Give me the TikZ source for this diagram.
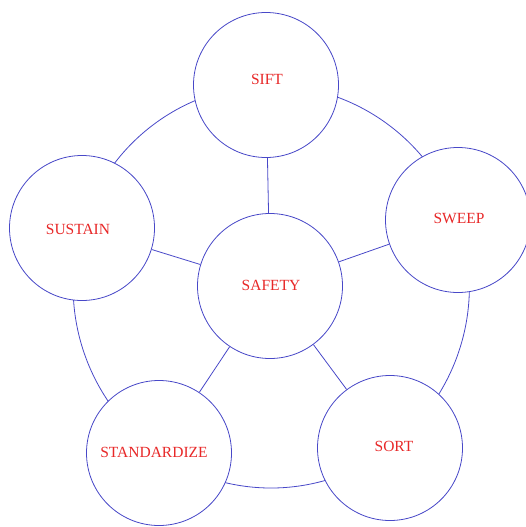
\documentclass[tikz,border=0pt]{standalone}
\usepackage{fontspec}
\setmainfont{Liberation Serif}
\usetikzlibrary{backgrounds}
\definecolor{ringblue}{RGB}{72,72,200}
\definecolor{labred}{RGB}{232,40,40}
\begin{document}
\begin{tikzpicture}[x=1pt,y=1pt,
  ball/.style={circle,draw=ringblue,line width=0.8pt,fill=white,minimum size=145pt,inner sep=0pt},
  lab/.style={text=labred,font=\fontsize{15.5}{17}\selectfont,inner sep=0pt},
  link/.style={draw=ringblue,line width=0.8pt},
  ringlink/.style={link,bend left=36,looseness=0.94}]
\useasboundingbox (0,0) rectangle (526,-527);
\node[ball] (sift) at (266,-85) {};
\node[ball] (sweep) at (458,-220) {};
\node[ball] (safety) at (270,-286) {};
\node[ball] (sustain) at (82,-228) {};
\node[ball] (stand) at (159,-453) {};
\node[ball] (sort) at (390,-448) {};
\node[lab] (siftT) at (267,-79) {SIFT};
\node[lab] (sweepT) at (459,-218) {SWEEP};
\node[lab] (safetyT) at (271,-285) {SAFETY};
\node[lab] (sustainT) at (78,-229) {SUSTAIN};
\node[lab] (standT) at (154,-452) {STANDARDIZE};
\node[lab] (sortT) at (394,-446) {SORT};
\begin{scope}[on background layer]
\draw[link] (safety) -- (sift);
\draw[link] (safety) -- (sweep);
\draw[link] (safety) -- (sustain);
\draw[link] (safety) -- (stand);
\draw[link] (safety) -- (sort);
\draw[ringlink] (sustain.center) to (sift.center);
\draw[ringlink] (sift.center) to (sweep.center);
\draw[ringlink] (sweep.center) to (sort.center);
\draw[ringlink] (sort.center) to (stand.center);
\draw[ringlink] (stand.center) to (sustain.center);
\end{scope}
\end{tikzpicture}
\end{document}
